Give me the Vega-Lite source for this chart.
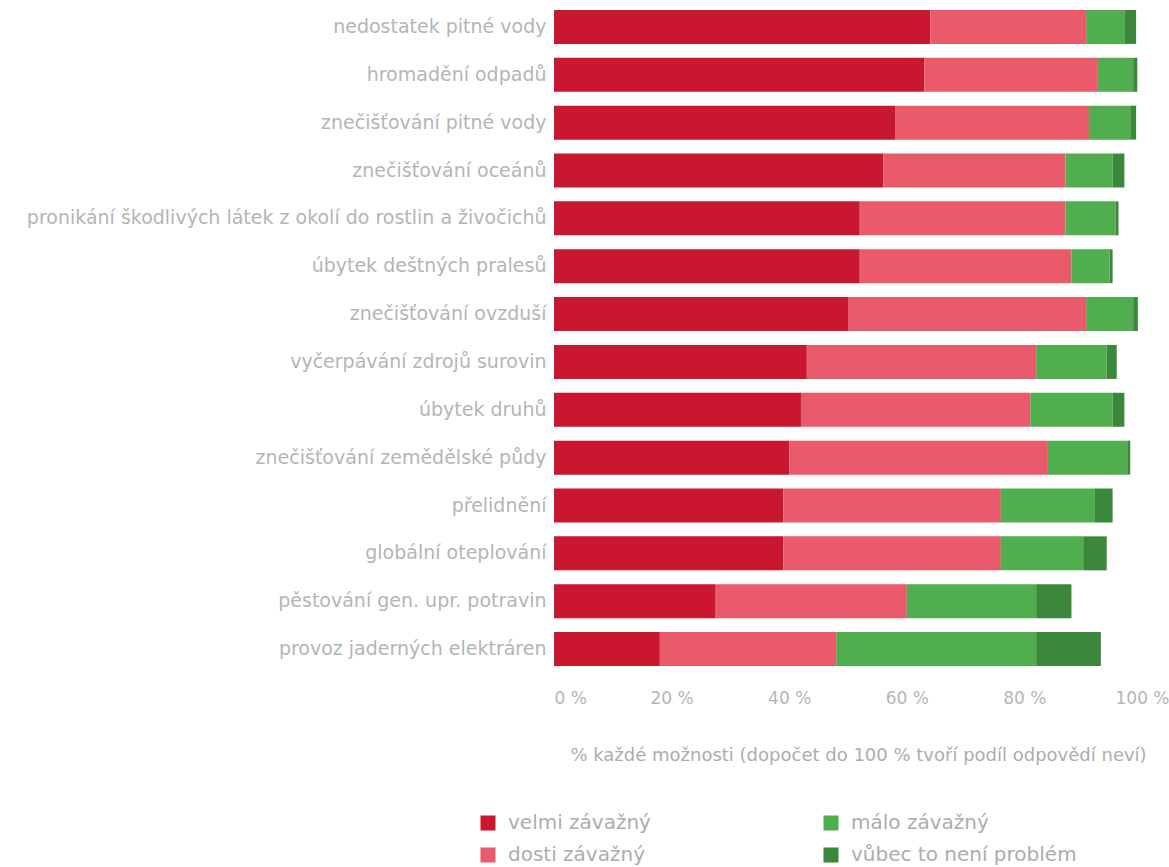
{
  "$schema": "https://vega.github.io/schema/vega-lite/v6.json",
  "autosize": {"type": "none"},
  "padding": {"left": 554, "top": 3, "right": 27, "bottom": 194},
  "width": 588,
  "height": 670,
  "background": "white",
  "config": {
    "view": {"stroke": null},
    "font": "DejaVu Sans"
  },
  "data": {
    "values": [
      {"problem": "nedostatek pitné vody", "kategorie": "velmi závažný", "poradi": 1, "hodnota": 64},
      {"problem": "nedostatek pitné vody", "kategorie": "dosti závažný", "poradi": 2, "hodnota": 26.5},
      {"problem": "nedostatek pitné vody", "kategorie": "málo závažný", "poradi": 3, "hodnota": 6.5},
      {"problem": "nedostatek pitné vody", "kategorie": "vůbec to není problém", "poradi": 4, "hodnota": 2},
      {"problem": "hromadění odpadů", "kategorie": "velmi závažný", "poradi": 1, "hodnota": 63},
      {"problem": "hromadění odpadů", "kategorie": "dosti závažný", "poradi": 2, "hodnota": 29.5},
      {"problem": "hromadění odpadů", "kategorie": "málo závažný", "poradi": 3, "hodnota": 6},
      {"problem": "hromadění odpadů", "kategorie": "vůbec to není problém", "poradi": 4, "hodnota": 0.7},
      {"problem": "znečišťování pitné vody", "kategorie": "velmi závažný", "poradi": 1, "hodnota": 58},
      {"problem": "znečišťování pitné vody", "kategorie": "dosti závažný", "poradi": 2, "hodnota": 33},
      {"problem": "znečišťování pitné vody", "kategorie": "málo závažný", "poradi": 3, "hodnota": 7},
      {"problem": "znečišťování pitné vody", "kategorie": "vůbec to není problém", "poradi": 4, "hodnota": 1},
      {"problem": "znečišťování oceánů", "kategorie": "velmi závažný", "poradi": 1, "hodnota": 56},
      {"problem": "znečišťování oceánů", "kategorie": "dosti závažný", "poradi": 2, "hodnota": 31},
      {"problem": "znečišťování oceánů", "kategorie": "málo závažný", "poradi": 3, "hodnota": 8},
      {"problem": "znečišťování oceánů", "kategorie": "vůbec to není problém", "poradi": 4, "hodnota": 2},
      {"problem": "pronikání škodlivých látek z okolí do rostlin a živočichů", "kategorie": "velmi závažný", "poradi": 1, "hodnota": 52},
      {"problem": "pronikání škodlivých látek z okolí do rostlin a živočichů", "kategorie": "dosti závažný", "poradi": 2, "hodnota": 35},
      {"problem": "pronikání škodlivých látek z okolí do rostlin a živočichů", "kategorie": "málo závažný", "poradi": 3, "hodnota": 8.5},
      {"problem": "pronikání škodlivých látek z okolí do rostlin a živočichů", "kategorie": "vůbec to není problém", "poradi": 4, "hodnota": 0.5},
      {"problem": "úbytek deštných pralesů", "kategorie": "velmi závažný", "poradi": 1, "hodnota": 52},
      {"problem": "úbytek deštných pralesů", "kategorie": "dosti závažný", "poradi": 2, "hodnota": 36},
      {"problem": "úbytek deštných pralesů", "kategorie": "málo závažný", "poradi": 3, "hodnota": 6.5},
      {"problem": "úbytek deštných pralesů", "kategorie": "vůbec to není problém", "poradi": 4, "hodnota": 0.5},
      {"problem": "znečišťování ovzduší", "kategorie": "velmi závažný", "poradi": 1, "hodnota": 50},
      {"problem": "znečišťování ovzduší", "kategorie": "dosti závažný", "poradi": 2, "hodnota": 40.5},
      {"problem": "znečišťování ovzduší", "kategorie": "málo závažný", "poradi": 3, "hodnota": 8},
      {"problem": "znečišťování ovzduší", "kategorie": "vůbec to není problém", "poradi": 4, "hodnota": 0.8},
      {"problem": "vyčerpávání zdrojů surovin", "kategorie": "velmi závažný", "poradi": 1, "hodnota": 43},
      {"problem": "vyčerpávání zdrojů surovin", "kategorie": "dosti závažný", "poradi": 2, "hodnota": 39},
      {"problem": "vyčerpávání zdrojů surovin", "kategorie": "málo závažný", "poradi": 3, "hodnota": 12},
      {"problem": "vyčerpávání zdrojů surovin", "kategorie": "vůbec to není problém", "poradi": 4, "hodnota": 1.7},
      {"problem": "úbytek druhů", "kategorie": "velmi závažný", "poradi": 1, "hodnota": 42},
      {"problem": "úbytek druhů", "kategorie": "dosti závažný", "poradi": 2, "hodnota": 39},
      {"problem": "úbytek druhů", "kategorie": "málo závažný", "poradi": 3, "hodnota": 14},
      {"problem": "úbytek druhů", "kategorie": "vůbec to není problém", "poradi": 4, "hodnota": 2},
      {"problem": "znečišťování zemědělské půdy", "kategorie": "velmi závažný", "poradi": 1, "hodnota": 40},
      {"problem": "znečišťování zemědělské půdy", "kategorie": "dosti závažný", "poradi": 2, "hodnota": 44},
      {"problem": "znečišťování zemědělské půdy", "kategorie": "málo závažný", "poradi": 3, "hodnota": 13.5},
      {"problem": "znečišťování zemědělské půdy", "kategorie": "vůbec to není problém", "poradi": 4, "hodnota": 0.5},
      {"problem": "přelidnění", "kategorie": "velmi závažný", "poradi": 1, "hodnota": 39},
      {"problem": "přelidnění", "kategorie": "dosti závažný", "poradi": 2, "hodnota": 37},
      {"problem": "přelidnění", "kategorie": "málo závažný", "poradi": 3, "hodnota": 16},
      {"problem": "přelidnění", "kategorie": "vůbec to není problém", "poradi": 4, "hodnota": 3},
      {"problem": "globální oteplování", "kategorie": "velmi závažný", "poradi": 1, "hodnota": 39},
      {"problem": "globální oteplování", "kategorie": "dosti závažný", "poradi": 2, "hodnota": 37},
      {"problem": "globální oteplování", "kategorie": "málo závažný", "poradi": 3, "hodnota": 14},
      {"problem": "globální oteplování", "kategorie": "vůbec to není problém", "poradi": 4, "hodnota": 4},
      {"problem": "pěstování gen. upr. potravin", "kategorie": "velmi závažný", "poradi": 1, "hodnota": 27.5},
      {"problem": "pěstování gen. upr. potravin", "kategorie": "dosti závažný", "poradi": 2, "hodnota": 32.5},
      {"problem": "pěstování gen. upr. potravin", "kategorie": "málo závažný", "poradi": 3, "hodnota": 22},
      {"problem": "pěstování gen. upr. potravin", "kategorie": "vůbec to není problém", "poradi": 4, "hodnota": 6},
      {"problem": "provoz jaderných elektráren", "kategorie": "velmi závažný", "poradi": 1, "hodnota": 18},
      {"problem": "provoz jaderných elektráren", "kategorie": "dosti závažný", "poradi": 2, "hodnota": 30},
      {"problem": "provoz jaderných elektráren", "kategorie": "málo závažný", "poradi": 3, "hodnota": 34},
      {"problem": "provoz jaderných elektráren", "kategorie": "vůbec to není problém", "poradi": 4, "hodnota": 11}
    ]
  },
  "mark": {"type": "bar"},
  "encoding": {
    "y": {
      "field": "problem",
      "type": "nominal",
      "sort": [
        "nedostatek pitné vody", "hromadění odpadů", "znečišťování pitné vody", "znečišťování oceánů",
        "pronikání škodlivých látek z okolí do rostlin a živočichů", "úbytek deštných pralesů",
        "znečišťování ovzduší", "vyčerpávání zdrojů surovin", "úbytek druhů",
        "znečišťování zemědělské půdy", "přelidnění", "globální oteplování",
        "pěstování gen. upr. potravin", "provoz jaderných elektráren"
      ],
      "scale": {"paddingInner": 0.29, "paddingOuter": 0.145},
      "axis": {
        "title": null,
        "domain": false,
        "ticks": false,
        "labelPadding": 8,
        "labelFont": "DejaVu Sans",
        "labelFontSize": 19,
        "labelColor": "#b5b5b5",
        "labelLimit": 600
      }
    },
    "x": {
      "field": "hodnota",
      "type": "quantitative",
      "stack": "zero",
      "scale": {"domain": [0, 100], "nice": false},
      "axis": {
        "title": "% každé možnosti (dopočet do 100 % tvoří podíl odpovědí neví)",
        "values": [0, 20, 40, 60, 80, 100],
        "labelExpr": "datum.value + ' %'",
        "labelFlush": false,
        "labelAlign": {"condition": {"test": "datum.value == 0", "value": "left"}, "value": "center"},
        "grid": false,
        "domain": false,
        "ticks": false,
        "labelPadding": 17,
        "labelFont": "DejaVu Sans",
        "labelFontSize": 17,
        "labelColor": "#b5b5b5",
        "titleFont": "DejaVu Sans",
        "titleFontSize": 18,
        "titleFontWeight": "normal",
        "titleColor": "#adadad",
        "titlePadding": 40,
        "titleX": 304,
        "titleAlign": "center"
      }
    },
    "color": {
      "field": "kategorie",
      "type": "nominal",
      "scale": {
        "domain": ["velmi závažný", "málo závažný", "dosti závažný", "vůbec to není problém"],
        "range": ["#c8172f", "#51ae4f", "#e95b6b", "#3b873b"]
      },
      "legend": {
        "title": null,
        "orient": "none",
        "legendX": -76,
        "legendY": 810,
        "columns": 2,
        "direction": "horizontal",
        "symbolType": "square",
        "symbolSize": 225,
        "symbolStrokeWidth": 0,
        "symbolOpacity": 1,
        "labelFont": "DejaVu Sans",
        "labelFontSize": 20,
        "labelColor": "#adadad",
        "labelOffset": 10,
        "columnPadding": 170,
        "rowPadding": 12,
        "labelLimit": 400
      }
    },
    "order": {"field": "poradi", "type": "quantitative"}
  }
}
